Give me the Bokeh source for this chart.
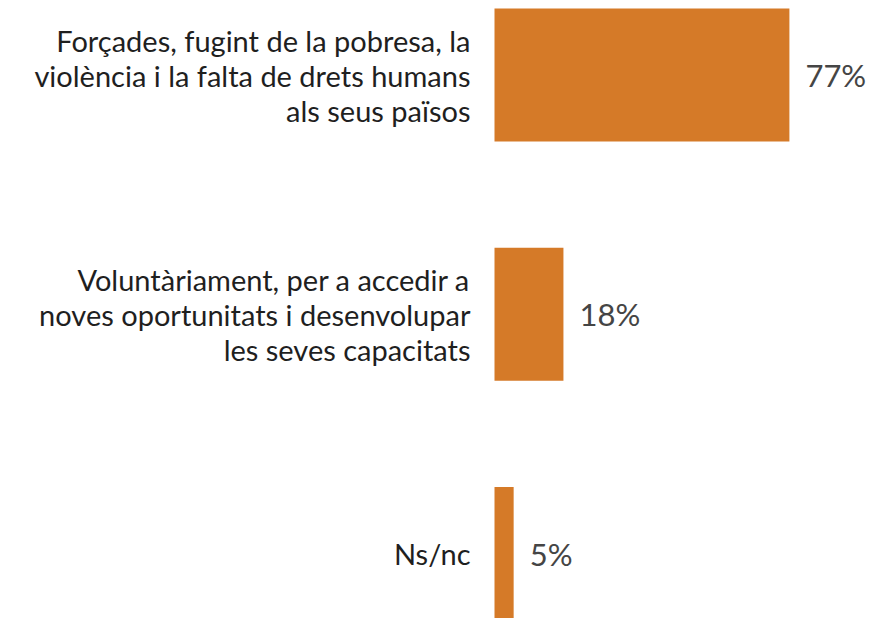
from bokeh.plotting import figure
from bokeh.models import Range1d, ColumnDataSource
from bokeh.core.properties import value
from bokeh.embed import file_html
from bokeh.resources import INLINE

categories = [
    "Forçades, fugint de la pobresa, la\nviolència i la falta de drets humans\nals seus països",
    "Voluntàriament, per a accedir a\nnoves oportunitats i desenvolupar\nles seves capacitats",
    "Ns/nc",
]
values = [77, 18, 5]
labels = [f"{v}%" for v in values]
positions = list(range(len(categories)))

src = ColumnDataSource(dict(y=positions, v=values, cat=categories, lab=labels, zero=[0] * len(values)))

W, H = 871, 618
px_per_unit_x = 3.83
bar_x0 = 494
x_left = -bar_x0 / px_per_unit_x
x_right = (W - bar_x0) / px_per_unit_x
band = 239.3
y_top = -74.5 / band
y_bottom = y_top + H / band

p = figure(width=W, height=H, output_backend="svg", toolbar_location=None,
           x_range=Range1d(x_left, x_right), y_range=Range1d(y_bottom, y_top),
           min_border=0, outline_line_color=None)
p.axis.visible = False
p.grid.visible = False
p.background_fill_color = "white"

p.hbar(y="y", left=0, right="v", height=133 / band, source=src,
       fill_color="#D57A28", line_color=None)

p.text(x="zero", y="y", text="cat", source=src, x_offset=-24,
       text_align="right", text_baseline="middle",
       text_font=value("Lato"), text_font_size="29px", text_color="#1f1f1f",
       text_line_height=1.0)

p.text(x="v", y="y", text="lab", source=src, x_offset=16,
       text_align="left", text_baseline="middle",
       text_font=value("Lato"), text_font_size="31px", text_color="#454545")

open("out.html", "w").write(file_html(p, INLINE))
